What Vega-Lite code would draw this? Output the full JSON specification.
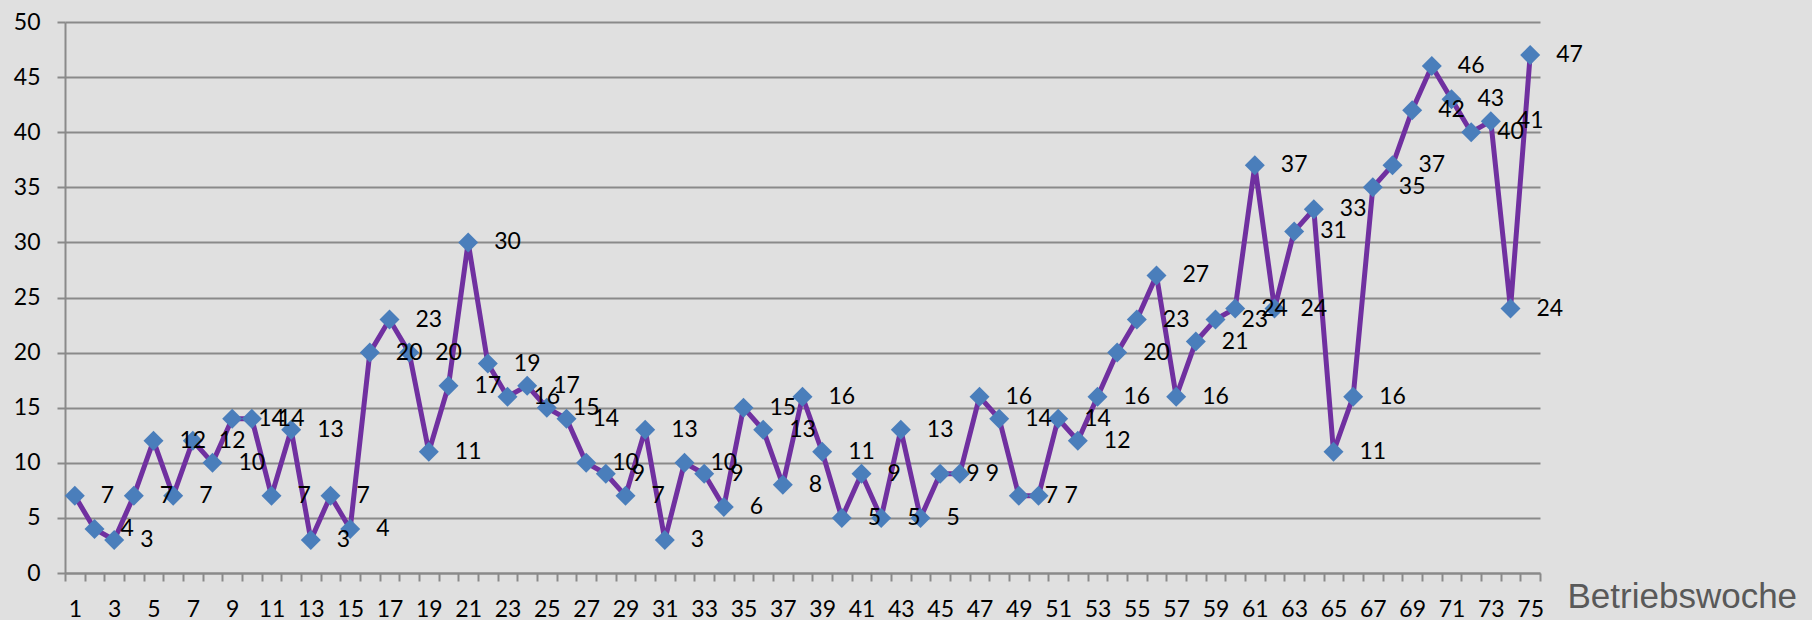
{
  "$schema": "https://vega.github.io/schema/vega-lite/v6.json",
  "autosize": {"type": "none"},
  "width": 1475,
  "height": 551,
  "padding": {"left": 65, "top": 22, "right": 272, "bottom": 47},
  "background": "#e0e0e0",
  "config": {
    "view": {"stroke": null},
    "font": "Lato"
  },
  "data": {
    "values": [
      {"woche": 1, "wert": 7}, {"woche": 2, "wert": 4}, {"woche": 3, "wert": 3}, {"woche": 4, "wert": 7},
      {"woche": 5, "wert": 12}, {"woche": 6, "wert": 7}, {"woche": 7, "wert": 12}, {"woche": 8, "wert": 10},
      {"woche": 9, "wert": 14}, {"woche": 10, "wert": 14}, {"woche": 11, "wert": 7}, {"woche": 12, "wert": 13},
      {"woche": 13, "wert": 3}, {"woche": 14, "wert": 7}, {"woche": 15, "wert": 4}, {"woche": 16, "wert": 20},
      {"woche": 17, "wert": 23}, {"woche": 18, "wert": 20}, {"woche": 19, "wert": 11}, {"woche": 20, "wert": 17},
      {"woche": 21, "wert": 30}, {"woche": 22, "wert": 19}, {"woche": 23, "wert": 16}, {"woche": 24, "wert": 17},
      {"woche": 25, "wert": 15}, {"woche": 26, "wert": 14}, {"woche": 27, "wert": 10}, {"woche": 28, "wert": 9},
      {"woche": 29, "wert": 7}, {"woche": 30, "wert": 13}, {"woche": 31, "wert": 3}, {"woche": 32, "wert": 10},
      {"woche": 33, "wert": 9}, {"woche": 34, "wert": 6}, {"woche": 35, "wert": 15}, {"woche": 36, "wert": 13},
      {"woche": 37, "wert": 8}, {"woche": 38, "wert": 16}, {"woche": 39, "wert": 11}, {"woche": 40, "wert": 5},
      {"woche": 41, "wert": 9}, {"woche": 42, "wert": 5}, {"woche": 43, "wert": 13}, {"woche": 44, "wert": 5},
      {"woche": 45, "wert": 9}, {"woche": 46, "wert": 9}, {"woche": 47, "wert": 16}, {"woche": 48, "wert": 14},
      {"woche": 49, "wert": 7}, {"woche": 50, "wert": 7}, {"woche": 51, "wert": 14}, {"woche": 52, "wert": 12},
      {"woche": 53, "wert": 16}, {"woche": 54, "wert": 20}, {"woche": 55, "wert": 23}, {"woche": 56, "wert": 27},
      {"woche": 57, "wert": 16}, {"woche": 58, "wert": 21}, {"woche": 59, "wert": 23}, {"woche": 60, "wert": 24},
      {"woche": 61, "wert": 37}, {"woche": 62, "wert": 24}, {"woche": 63, "wert": 31}, {"woche": 64, "wert": 33},
      {"woche": 65, "wert": 11}, {"woche": 66, "wert": 16}, {"woche": 67, "wert": 35}, {"woche": 68, "wert": 37},
      {"woche": 69, "wert": 42}, {"woche": 70, "wert": 46}, {"woche": 71, "wert": 43}, {"woche": 72, "wert": 40},
      {"woche": 73, "wert": 41}, {"woche": 74, "wert": 24}, {"woche": 75, "wert": 47}
    ]
  },
  "encoding": {
    "x": {
      "field": "woche",
      "type": "ordinal",
      "sort": "ascending",
      "scale": {"type": "band", "paddingInner": 0, "paddingOuter": 0},
      "axis": {
        "title": "Betriebswoche",
        "titleFont": "Liberation Sans",
        "titleFontSize": 35,
        "titleFontWeight": "normal",
        "titleColor": "#595959",
        "titleAlign": "left",
        "titleBaseline": "alphabetic",
        "titleAnchor": null,
        "titleX": 1502,
        "titleY": 34,
        "labelAngle": 0,
        "labelFontSize": 23,
        "labelColor": "#000000",
        "labelPadding": 17,
        "labelExpr": "datum.value % 2 == 1 ? datum.label : ''",
        "labelOverlap": false,
        "tickBand": "extent",
        "tickSize": 8,
        "tickColor": "#8a8a8a",
        "tickWidth": 2,
        "domainColor": "#8a8a8a",
        "domainWidth": 2,
        "grid": false
      }
    },
    "y": {
      "field": "wert",
      "type": "quantitative",
      "scale": {"domain": [0, 50], "nice": false},
      "axis": {
        "title": null,
        "values": [0, 5, 10, 15, 20, 25, 30, 35, 40, 45, 50],
        "labelFontSize": 23,
        "labelColor": "#000000",
        "labelPadding": 17,
        "tickSize": 8,
        "tickColor": "#8a8a8a",
        "tickWidth": 2,
        "domainColor": "#8a8a8a",
        "domainWidth": 2,
        "grid": true,
        "gridColor": "#8a8a8a",
        "gridWidth": 2
      }
    }
  },
  "layer": [
    {
      "mark": {"type": "line", "color": "#7030a0", "strokeWidth": 5}
    },
    {
      "mark": {"type": "point", "shape": "diamond", "size": 400, "filled": true, "opacity": 1, "color": "#4a7ebb"}
    },
    {
      "mark": {"type": "text", "align": "left", "baseline": "middle", "dx": 26, "fontSize": 23, "color": "#000000"},
      "encoding": {"text": {"field": "wert", "type": "quantitative"}}
    }
  ]
}
